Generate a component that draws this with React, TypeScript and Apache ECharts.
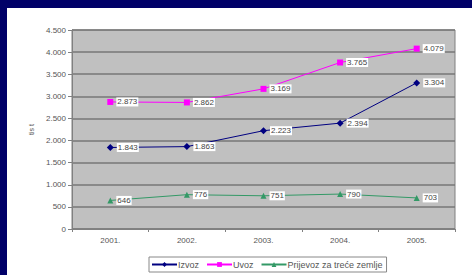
import React, { useEffect, useRef } from "react";
import * as echarts from "echarts";

const categories = ["2001.", "2002.", "2003.", "2004.", "2005."];
const izvoz = [1843, 1863, 2223, 2394, 3304];
const uvoz = [2873, 2862, 3169, 3765, 4079];
const prijevoz = [646, 776, 751, 790, 703];
const seriesNames = ["Izvoz", "Uvoz", "Prijevoz za treće zemlje"];

function fmt(v: number): string {
  const s = String(Math.round(v));
  return s.replace(/\B(?=(\d{3})+(?!\d))/g, ".");
}

export default function App() {
  const ref = useRef<HTMLDivElement>(null);
  useEffect(() => {
    if (!ref.current) return;
    const chart = echarts.init(ref.current, undefined, { renderer: "svg" });
    const font = "Liberation Sans, Arial, sans-serif";
    const label = {
      show: true,
      position: "right" as const,
      distance: 3,
      backgroundColor: "#ffffff",
      padding: [1, 1, 0, 1],
      color: "#444",
      fontSize: 8,
      fontFamily: font,
      formatter: (p: any) => fmt(p.value),
    };
    const mk = (name: string, data: number[], color: string, symbol: string, size: number) => ({
      name,
      type: "line",
      data,
      symbol,
      symbolSize: size,
      lineStyle: { color, width: 1 },
      itemStyle: { color },
      label,
    });
    chart.setOption({
      animation: false,
      backgroundColor: "transparent",
      graphic: [
        { type: "rect", shape: { x: 7, y: 8, width: 465, height: 267 }, style: { fill: "#ffffff" }, z: -10 },
      ],
      grid: { left: 72, right: 17, top: 30, bottom: 46, show: true, backgroundColor: "#c0c0c0", borderColor: "#808080", borderWidth: 1 },
      xAxis: {
        type: "category",
        data: categories,
        boundaryGap: true,
        axisLine: { lineStyle: { color: "#808080" } },
        axisTick: { show: true, length: 3, lineStyle: { color: "#808080" } },
        axisLabel: { color: "#555", fontSize: 8, fontFamily: font, margin: 7 },
      },
      yAxis: {
        type: "value",
        min: 0,
        max: 4500,
        interval: 500,
        name: "tis t",
        nameLocation: "middle",
        nameGap: 37,
        nameRotate: 90,
        nameTextStyle: { color: "#555", fontSize: 7, fontFamily: font },
        axisLine: { show: true, lineStyle: { color: "#808080" } },
        axisTick: { show: true, length: 4, lineStyle: { color: "#808080" } },
        axisLabel: { color: "#555", fontSize: 8, fontFamily: font, margin: 6, formatter: (v: number) => fmt(v) },
        splitLine: { lineStyle: { color: "#777777", width: 1.5 } },
      },
      legend: {
        left: 149,
        top: 257,
        itemWidth: 25,
        itemHeight: 6,
        itemGap: 7,
        padding: [3, 4, 3, 2],
        borderColor: "#888",
        borderWidth: 1,
        backgroundColor: "#ffffff",
        textStyle: { color: "#555", fontSize: 9, fontFamily: font, padding: [0, 0, 0, -4] },
        data: seriesNames,
      },
      series: [
        mk(seriesNames[0], izvoz, "#000080", "diamond", 7),
        mk(seriesNames[1], uvoz, "#ff00ff", "rect", 6),
        mk(seriesNames[2], prijevoz, "#339966", "triangle", 6),
      ],
    });
    return () => chart.dispose();
  }, []);
  return (
    <div style={{ position: "absolute", left: 0, top: 0, width: 472, height: 275, background: "#000068" }}>
      <div ref={ref} style={{ width: 472, height: 275 }} />
    </div>
  );
}
